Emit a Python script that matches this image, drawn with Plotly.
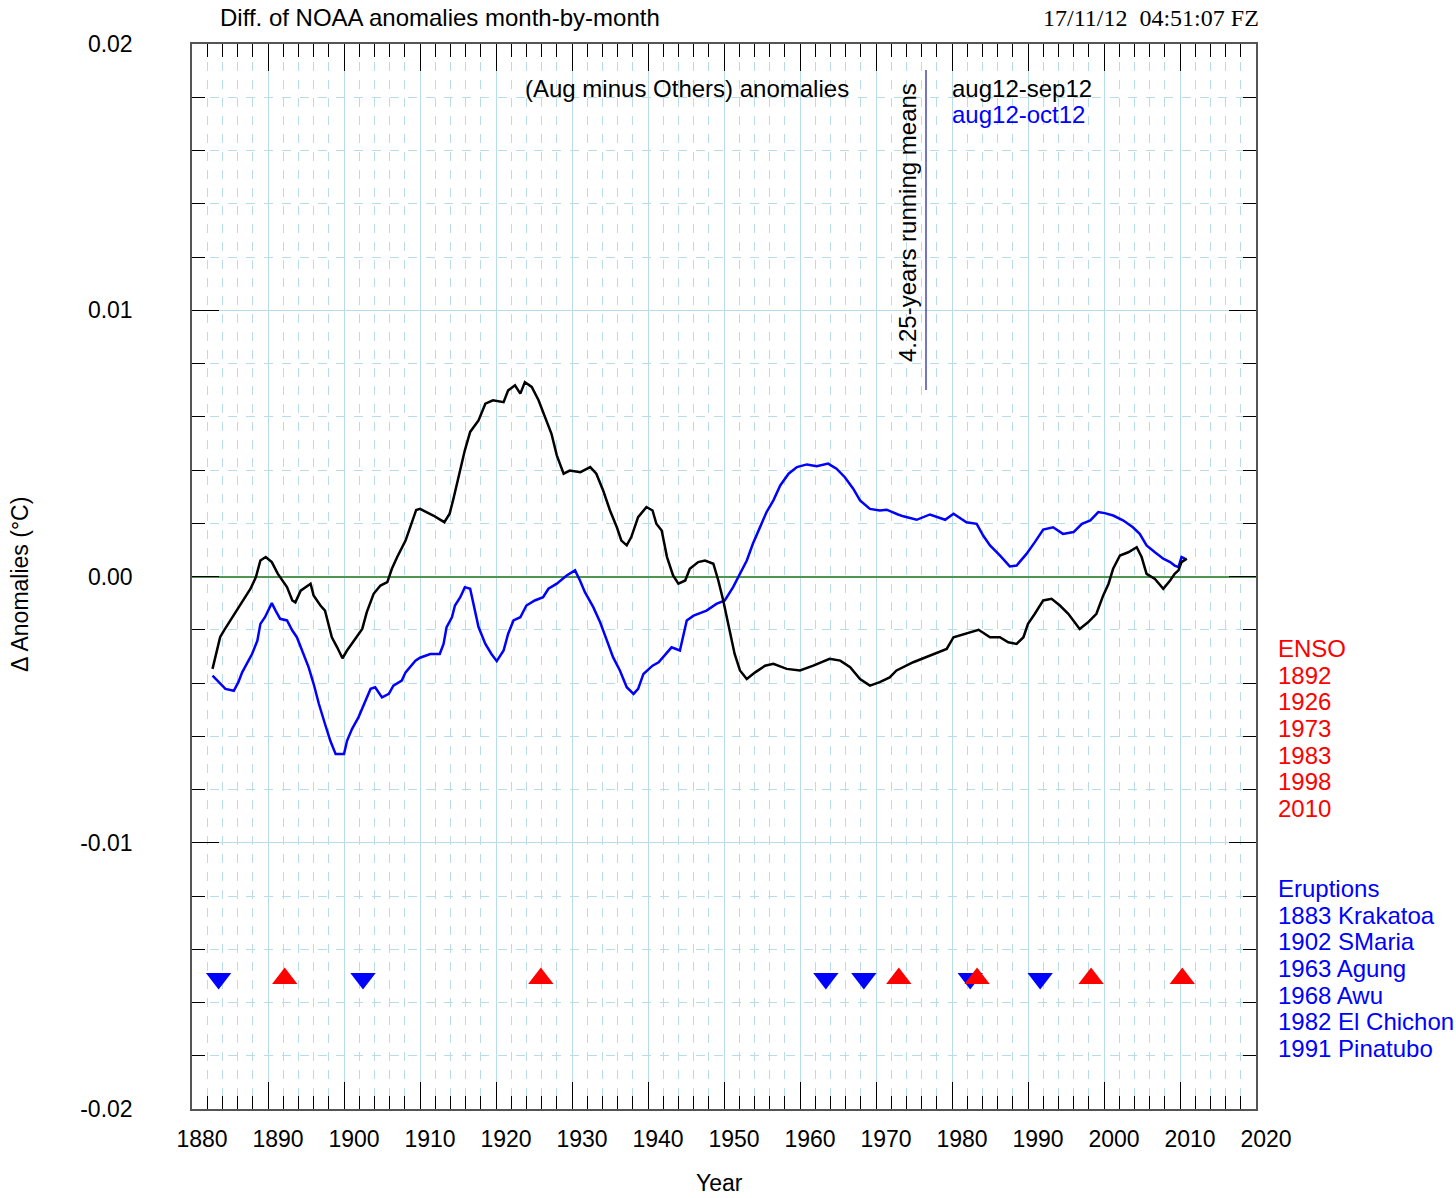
import plotly.graph_objects as go

# ---------------- data ----------------
black_year = [1882.7, 1883.1, 1883.7, 1884.2, 1885.3, 1886.6, 1887.7, 1888.4, 1889.0, 1889.7,
              1890.5, 1891.3, 1892.5, 1893.2, 1893.6, 1894.3, 1894.9, 1895.6, 1896.0, 1896.9,
              1897.5, 1898.0, 1898.4, 1899.1, 1899.8, 1900.4, 1901.5, 1902.4, 1903.0, 1903.9,
              1904.8, 1905.7, 1906.3, 1907.0, 1908.1, 1909.0, 1909.5, 1910.0, 1911.75, 1913.2,
              1913.9, 1914.4, 1915.3, 1915.9, 1916.6, 1917.7, 1918.6, 1919.6, 1921.0, 1921.6,
              1922.5, 1923.2, 1923.8, 1924.7, 1925.6, 1926.4, 1927.3, 1928.0, 1928.9, 1929.7,
              1931.1, 1932.4, 1933.2, 1934.1, 1935.0, 1935.9, 1936.5, 1937.2, 1937.8, 1938.7,
              1939.8, 1940.6, 1941.1, 1941.8, 1942.5, 1943.3, 1944.0, 1944.9, 1945.5, 1946.6,
              1947.5, 1948.6, 1949.25, 1949.9, 1950.6, 1951.4, 1952.1, 1953.0, 1954.1, 1955.4,
              1956.5, 1958.25, 1960.0, 1961.75, 1963.9, 1965.3, 1966.6, 1967.9, 1969.2, 1970.5,
              1971.8, 1972.7, 1974.9, 1977.1, 1979.3, 1980.2, 1981.9, 1983.5, 1985.0, 1986.3,
              1987.4, 1988.5, 1989.4, 1990.0, 1990.9, 1992.0, 1993.1, 1994.2, 1995.3, 1996.8,
              1997.9, 1999.0, 1999.9, 2000.6, 2001.2, 2002.1, 2003.2, 2004.3, 2004.95, 2005.6,
              2006.7, 2007.8, 2008.7, 2009.3, 2009.8, 2010.2, 2010.9]
black_val = [-0.00347, -0.00303, -0.00228, -0.00203, -0.00153, -0.00097, -0.00046, -0.00003, 0.0006, 0.00073,
             0.00054, 0.0001, -0.0004, -0.0009, -0.00097, -0.00053, -0.0004, -0.00027, -0.00071, -0.00109,
             -0.00128, -0.00178, -0.00228, -0.00266, -0.00307, -0.00278, -0.00234, -0.00197, -0.00134, -0.00065,
             -0.00034, -0.00021, 0.00029, 0.00073, 0.00135, 0.0021, 0.0025, 0.00254, 0.00229, 0.00204,
             0.00236, 0.00292, 0.00398, 0.00474, 0.00543, 0.00586, 0.00649, 0.00662, 0.00655, 0.00699,
             0.00718, 0.00687, 0.0073, 0.00712, 0.00662, 0.00599, 0.00536, 0.00455, 0.00386, 0.00398,
             0.00392, 0.00411, 0.00386, 0.00323, 0.00248, 0.00185, 0.00135, 0.00117, 0.00148, 0.00223,
             0.00261, 0.00248, 0.00198, 0.00173, 0.00073, 0.00004, -0.00027, -0.00015, 0.00029, 0.00054,
             0.0006, 0.00048, -0.00015, -0.0009, -0.0019, -0.00291, -0.00353, -0.00385, -0.0036, -0.00335,
             -0.00328, -0.00347, -0.00353, -0.00335, -0.00309, -0.00316, -0.00341, -0.00385, -0.0041, -0.00397,
             -0.00379, -0.00353, -0.00322, -0.00297, -0.00272, -0.00228, -0.00215, -0.002, -0.00228, -0.00228,
             -0.00247, -0.00253, -0.00228, -0.00178, -0.0014, -0.0009, -0.00084, -0.00109, -0.0014, -0.00197,
             -0.00172, -0.0014, -0.00071, -0.00027, 0.00029, 0.00079, 0.00091, 0.0011, 0.00073, 0.0001,
             -0.00009, -0.00046, -0.00015, 0.0001, 0.00023, 0.00054, 0.00067]

blue_year = [1882.7, 1883.5, 1884.4, 1885.5, 1886.1, 1886.6, 1887.2, 1887.9, 1888.6, 1889.0,
             1889.6, 1890.2, 1890.5, 1891.0, 1891.6, 1892.5, 1893.2, 1893.8, 1894.5, 1895.35,
             1896.0, 1896.7, 1897.5, 1898.2, 1898.9, 1900.0, 1900.4, 1901.05, 1901.9, 1902.8,
             1903.5, 1904.1, 1905.0, 1905.9, 1906.5, 1907.6, 1908.1, 1909.4, 1910.0, 1911.35,
             1912.6, 1913.1, 1913.5, 1914.2, 1914.6, 1915.3, 1915.9, 1916.6, 1917.0, 1917.7,
             1918.6, 1919.4, 1920.1, 1921.0, 1921.6, 1922.3, 1923.2, 1924.0, 1925.1, 1926.2,
             1926.9, 1928.0, 1929.3, 1930.4, 1931.05, 1931.7, 1932.8, 1933.7, 1934.6, 1935.4,
             1936.3, 1937.2, 1938.1, 1938.7, 1939.4, 1940.6, 1941.4, 1942.0, 1943.1, 1944.2,
             1944.6, 1945.1, 1946.0, 1947.7, 1949.0, 1950.1, 1951.2, 1952.1, 1953.0, 1953.8,
             1954.7, 1955.6, 1956.5, 1957.4, 1958.5, 1959.6, 1960.9, 1962.2, 1963.7, 1964.8,
             1965.9, 1967.0, 1967.9, 1969.2, 1970.5, 1971.4, 1972.9, 1973.6, 1975.35, 1977.1,
             1979.1, 1980.2, 1981.9, 1983.25, 1984.1, 1985.0, 1986.3, 1987.6, 1988.5, 1989.8,
             1990.9, 1992.0, 1993.3, 1994.6, 1996.0, 1997.1, 1998.2, 1999.25, 2000.1, 2001.2,
             2002.5, 2003.8, 2004.7, 2005.6, 2006.7, 2007.8, 2008.7, 2009.3, 2009.8, 2010.2, 2010.65]
blue_val = [-0.00372, -0.00397, -0.00422, -0.00429, -0.00397, -0.0036, -0.00328, -0.00291, -0.00241, -0.00178,
            -0.00153, -0.00115, -0.001, -0.00128, -0.00159, -0.00165, -0.00203, -0.00228, -0.00278, -0.00341,
            -0.00403, -0.00479, -0.00554, -0.00617, -0.00667, -0.00667, -0.00617, -0.00573, -0.00529, -0.00466,
            -0.00422, -0.00416, -0.00454, -0.00441, -0.0041, -0.00391, -0.0036, -0.00316, -0.00305, -0.00291,
            -0.00291, -0.00253, -0.0019, -0.00153, -0.00109, -0.00078, -0.0004, -0.00046, -0.00103, -0.0019,
            -0.00253, -0.00291, -0.00318, -0.00278, -0.00215, -0.00165, -0.00153, -0.00109, -0.0009, -0.00078,
            -0.00046, -0.00027, 0.00004, 0.00023, -0.00015, -0.00059, -0.00115, -0.00172, -0.00241, -0.00303,
            -0.00353, -0.00416, -0.00441, -0.00422, -0.00366, -0.00335, -0.00322, -0.00303, -0.00266, -0.00278,
            -0.00228, -0.00165, -0.00147, -0.00128, -0.00103, -0.0009, -0.0004, 0.0001, 0.0006, 0.00123,
            0.00185, 0.00242, 0.00286, 0.00342, 0.00386, 0.00411, 0.00421, 0.00414, 0.00424, 0.00405,
            0.00373, 0.0033, 0.00286, 0.00254, 0.00248, 0.00251, 0.00233, 0.00226, 0.00213, 0.00233,
            0.00213, 0.00236, 0.00204, 0.00198, 0.00154, 0.00117, 0.00079, 0.00038, 0.00041, 0.00085,
            0.00129, 0.00176, 0.00185, 0.0016, 0.00167, 0.00198, 0.00211, 0.00242, 0.00238, 0.00229,
            0.00211, 0.00185, 0.0016, 0.00117, 0.00091, 0.00067, 0.00054, 0.00041, 0.00035, 0.00073, 0.00067]

enso_x = [1892.2, 1925.9, 1973.0, 1983.3, 1998.3, 2010.3]
eruption_x = [1883.5, 1902.5, 1963.4, 1968.4, 1982.4, 1991.6]
marker_level = -0.0151

enso_labels = ["ENSO", "1892", "1926", "1973", "1983", "1998", "2010"]
eruption_labels = ["Eruptions", "1883 Krakatoa", "1902 SMaria", "1963 Agung", "1968 Awu",
                   "1982 El Chichon", "1991 Pinatubo"]

x_tickvals = list(range(1880, 2021, 10))
y_tickvals = [-0.02, -0.01, 0.0, 0.01, 0.02]
y_ticktext = ["-0.02", "-0.01", "0.00", "0.01", "0.02"]

# ---------------- layout helpers ----------------
W, H = 1456, 1198
L, R, T, B = 192, 1256, 44, 1109   # plot box in page pixels


def px_x(px):
    return (px - L) / (R - L)


def px_y(py):
    return (B - py) / (B - T)


FONT = "Liberation Sans, Arial, Helvetica, sans-serif"
FS = 23      # tick labels
FA = 24      # annotation texts
GRID = "#b8dde8"

fig = go.Figure()

fig.add_trace(go.Scatter(x=blue_year, y=blue_val, mode="lines",
                         line=dict(color="#0000ff", width=2.5), name="aug12-oct12"))
fig.add_trace(go.Scatter(x=black_year, y=black_val, mode="lines",
                         line=dict(color="#000000", width=2.5), name="aug12-sep12"))
fig.add_trace(go.Scatter(x=eruption_x, y=[marker_level] * len(eruption_x), mode="markers",
                         marker=dict(symbol="triangle-down", size=22, color="#0000ff",
                                     line=dict(width=0)), name="Eruptions"))
fig.add_trace(go.Scatter(x=enso_x, y=[marker_level] * len(enso_x), mode="markers",
                         marker=dict(symbol="triangle-up", size=22, color="#ff0000",
                                     line=dict(width=0)), name="ENSO"))

fig.update_layout(
    width=W, height=H,
    margin=dict(l=L, r=W - R, t=T, b=H - B, pad=0),
    paper_bgcolor="white", plot_bgcolor="white",
    showlegend=False,
    font=dict(family=FONT, size=FS, color="black"),
    xaxis=dict(
        range=[1880, 2020], tickmode="array", tickvals=x_tickvals,
        ticks="inside", ticklen=27, tickwidth=1, tickcolor="black",
        showline=True, linecolor="#555555", linewidth=1.5, mirror="ticks",
        showgrid=True, gridcolor=GRID, gridwidth=1,
        zeroline=False,
        tickfont=dict(family=FONT, size=FS, color="black"),
        ticklabelshift=10, ticklabelstandoff=9,
        minor=dict(tickmode="linear", tick0=1880, dtick=2, ticks="inside", ticklen=13,
                   tickcolor="black", tickwidth=1,
                   showgrid=True, gridcolor=GRID, gridwidth=1, griddash="dash"),
    ),
    yaxis=dict(
        range=[-0.02, 0.02], tickmode="array", tickvals=y_tickvals, ticktext=y_ticktext,
        ticks="inside", ticklen=27, tickwidth=1, tickcolor="black",
        showline=True, linecolor="#555555", linewidth=1.5, mirror="ticks",
        showgrid=True, gridcolor=GRID, gridwidth=1,
        zeroline=True, zerolinecolor="#4f944f", zerolinewidth=1.5,
        tickfont=dict(family=FONT, size=FS, color="black"),
        ticklabelstandoff=53,
        minor=dict(tickmode="linear", tick0=0, dtick=0.002, ticks="inside", ticklen=13,
                   tickcolor="black", tickwidth=1,
                   showgrid=True, gridcolor=GRID, gridwidth=1, griddash="dash"),
    ),
)

ann = []
# title and timestamp
ann.append(dict(text="Diff. of NOAA anomalies month-by-month", x=px_x(218), y=px_y(18),
                xanchor="left", yanchor="middle", font=dict(size=FA)))
ann.append(dict(text="17/11/12  04:51:07 FZ", x=px_x(1261), y=px_y(18),
                xanchor="right", yanchor="middle",
                font=dict(family="Liberation Serif, Times New Roman, serif", size=FA)))
# axis titles
ann.append(dict(text="Year", x=px_x(719), y=px_y(1183), xanchor="center", yanchor="middle",
                font=dict(size=FS)))
ann.append(dict(text="\u0394 Anomalies (\u00b0C)", x=px_x(20), y=px_y(585), textangle=-90,
                xanchor="center", yanchor="middle", font=dict(size=FS)))
# inner labels
ann.append(dict(text="(Aug minus Others) anomalies", x=px_x(687), y=px_y(88),
                xanchor="center", yanchor="middle", font=dict(size=FA)))
ann.append(dict(text="aug12-sep12", x=px_x(950), y=px_y(88), xanchor="left", yanchor="middle",
                font=dict(size=FA, color="black")))
ann.append(dict(text="aug12-oct12", x=px_x(950), y=px_y(115), xanchor="left", yanchor="middle",
                font=dict(size=FA, color="#0000ff")))
ann.append(dict(text="4.25-years running means", x=px_x(908), y=px_y(223), textangle=-90,
                xanchor="center", yanchor="middle", font=dict(size=FA)))
# right side lists
enso_py = [648, 675, 701, 728, 755, 781, 808]
for lab, py in zip(enso_labels, enso_py):
    ann.append(dict(text=lab, x=px_x(1276), y=px_y(py), xanchor="left", yanchor="middle",
                    font=dict(size=FA, color="#ff0000")))
erup_py = [888, 915, 941, 968, 995, 1021, 1048]
for lab, py in zip(eruption_labels, erup_py):
    ann.append(dict(text=lab, x=px_x(1276), y=px_y(py), xanchor="left", yanchor="middle",
                    font=dict(size=FA, color="#0000ff")))

for a in ann:
    a.update(xref="paper", yref="paper", showarrow=False)
fig.update_layout(annotations=ann)

fig.add_shape(type="line", xref="paper", yref="paper",
              x0=px_x(926), x1=px_x(926), y0=px_y(70), y1=px_y(390),
              line=dict(color="#1a1aa0", width=1.2))

# remove the default 8px page margin so the figure fills the window exactly
fig.write_html("out.html", config={"displayModeBar": False},
               post_script="document.body.style.margin='0px';document.body.style.overflow='hidden';")
